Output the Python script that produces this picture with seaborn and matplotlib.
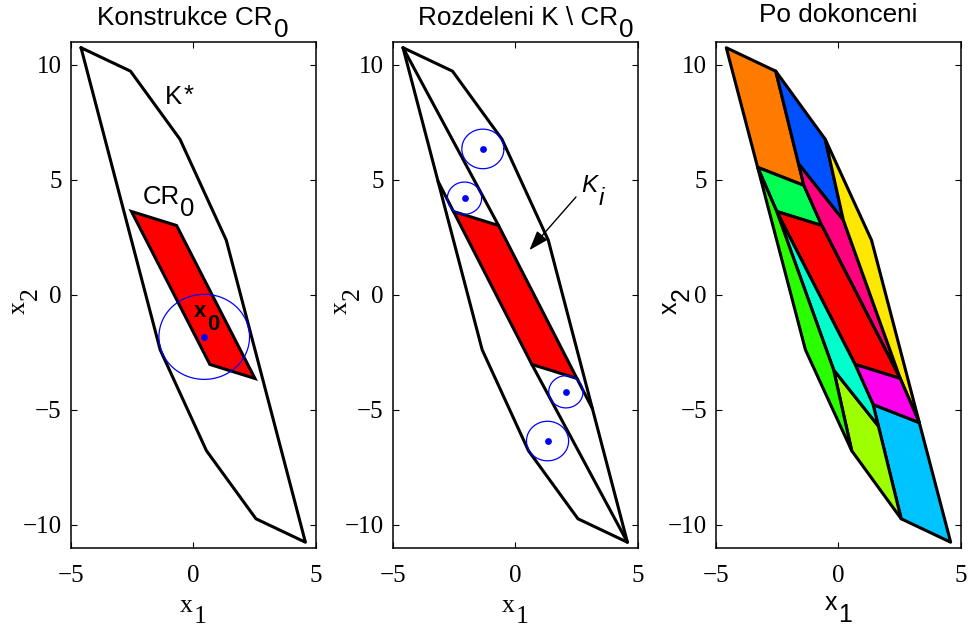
import numpy as np
import matplotlib
matplotlib.use("Agg")
import matplotlib.pyplot as plt
from matplotlib.transforms import ScaledTranslation
import seaborn as sns

# ---------------------------------------------------------------- data
# vertices of the feasible set K* (point-symmetric about the origin)
kstar_x = [-4.58, -2.56, -0.54, 1.35, 4.58, 2.56, 0.54, -1.35]
kstar_y = [10.75, 9.73, 6.77, 2.38, -10.75, -9.73, -6.77, -2.38]

# critical region CR0 of the starting point x0
cr0_x = [-2.52, -0.68, 2.52, 0.68]
cr0_y = [3.63, 3.02, -3.63, -3.02]

# Chebyshev ball around x0
x0_cx, x0_cy, x0_r = 0.45, -1.82, 1.85

# Chebyshev balls of the four pieces of K \ CR0
ball_x = [-1.32, -2.07, 2.07, 1.32]
ball_y = [6.35, 4.21, -4.21, -6.35]
ball_r = [0.86, 0.70, 0.70, 0.86]

# final partition of K*
orange_x = [-4.58, -2.56, -1.41, -3.30]
orange_y = [10.75, 9.73, 4.76, 5.55]
blue_x = [-2.56, -0.54, 0.20, -1.63]
blue_y = [9.73, 6.77, 3.25, 5.70]
green_x = [-3.30, -1.41, -0.68, -2.52]
green_y = [5.55, 4.76, 3.02, 3.63]
pink_x = [-1.63, 0.20, 2.52, -0.68, -1.41]
pink_y = [5.70, 3.25, -3.63, 3.02, 4.76]
yellow_x = [-0.54, 1.35, 3.30, 2.52, 0.20]
yellow_y = [6.77, 2.38, -5.55, -3.63, 3.25]
skyblue_x = [4.58, 2.56, 1.41, 3.30]
skyblue_y = [-10.75, -9.73, -4.76, -5.55]
lime_x = [2.56, 0.54, -0.20, 1.63]
lime_y = [-9.73, -6.77, -3.25, -5.70]
magenta_x = [3.30, 1.41, 0.68, 2.52]
magenta_y = [-5.55, -4.76, -3.02, -3.63]
teal_x = [1.63, -0.20, -2.52, 0.68, 1.41]
teal_y = [-5.70, -3.25, 3.63, -3.02, -4.76]
grass_x = [0.54, -1.35, -3.30, -2.52, -0.20]
grass_y = [-6.77, -2.38, 5.55, 3.63, -3.25]

partition = [
    (orange_x, orange_y, "#ff7b00"),
    (blue_x, blue_y, "#0050ff"),
    (green_x, green_y, "#00ff55"),
    (pink_x, pink_y, "#ff007f"),
    (yellow_x, yellow_y, "#ffe800"),
    (cr0_x, cr0_y, "#ff0000"),
    (skyblue_x, skyblue_y, "#00c4ff"),
    (lime_x, lime_y, "#9dff00"),
    (magenta_x, magenta_y, "#ff00ec"),
    (teal_x, teal_y, "#00ffcc"),
    (grass_x, grass_y, "#2aff00"),
]

# ---------------------------------------------------------------- style
sns.set_theme(style="white")
SANS = "Liberation Sans"
SERIF = "Liberation Serif"
plt.rcParams.update({
    "font.family": [SERIF, "DejaVu Sans"],
    "text.color": "black",
    "axes.edgecolor": "black",
    "axes.linewidth": 1.1,
    "xtick.color": "black",
    "ytick.color": "black",
    "axes.unicode_minus": True,
})

fig = plt.figure(figsize=(9.69, 6.33), dpi=100)
lefts = [0.0730, 0.4053, 0.7389]
axes = [fig.add_axes([l, 0.1343, 0.2528, 0.7994]) for l in lefts]


def rich_text(ax, x, y, pieces, transform, ha="center", rotation=0, **kw):
    """Lay out (text, baseline drop in pt, size) pieces one after another."""
    renderer = fig.canvas.get_renderer()
    arts = [ax.text(x, y, s, transform=transform, ha="left", va="baseline",
                    rotation=rotation, rotation_mode="anchor", fontsize=size,
                    clip_on=False, **kw)
            for s, drop, size in pieces]
    ext = [a.get_window_extent(renderer) for a in arts]
    adv = [(e.height if rotation else e.width) + 1.0 for e in ext]
    pos = {"left": 0.0, "center": -sum(adv) / 2, "right": -sum(adv)}[ha]
    for a, w, (s, drop, size) in zip(arts, adv, pieces):
        sh = drop * fig.dpi / 72
        dx, dy = (sh, pos) if rotation else (pos, -sh)
        a.set_transform(transform + ScaledTranslation(dx / fig.dpi, dy / fig.dpi,
                                                      fig.dpi_scale_trans))
        pos += w
    return arts


def closed(xs, ys):
    return list(xs) + [xs[0]], list(ys) + [ys[0]]


def outline(ax, xs, ys, **kw):
    cx, cy = closed(xs, ys)
    sns.lineplot(x=cx, y=cy, sort=False, estimator=None, ax=ax,
                 color="black", lw=2.2, **kw)


def segment(ax, p, q):
    sns.lineplot(x=[p[0], q[0]], y=[p[1], q[1]], sort=False, estimator=None,
                 ax=ax, color="black", lw=2.2)


def ball(ax, cx, cy, r):
    t = np.linspace(0, 2 * np.pi, 240)
    sns.lineplot(x=cx + r * np.cos(t), y=cy + r * np.sin(t), sort=False,
                 estimator=None, ax=ax, color="#0000ff", lw=0.9, zorder=4)


def meet(p, q, a, b):
    """Intersection of the line through p, q with the line through a, b."""
    p, q, a, b = map(np.asarray, (p, q, a, b))
    t, _ = np.linalg.solve(np.column_stack([q - p, a - b]), a - p)
    return p + t * (q - p)


V = list(zip(kstar_x, kstar_y))
C = list(zip(cr0_x, cr0_y))

# ---------------------------------------------------------------- panel 1
ax = axes[0]
outline(ax, kstar_x, kstar_y)
ax.fill(cr0_x, cr0_y, facecolor="#ff0000", edgecolor="black", lw=2.2, zorder=3)
ball(ax, x0_cx, x0_cy, x0_r)
sns.scatterplot(x=[x0_cx], y=[x0_cy], color="#0000ff", s=24, linewidth=0,
                ax=ax, zorder=5)
rich_text(ax, -1.14, 8.31, [("K", 0, 18.5), ("*", -1, 18.5)], ax.transData,
          ha="left", family=SANS)
rich_text(ax, -2.08, 3.97, [("CR", 0, 18.5), ("0", 9, 18.5)], ax.transData,
          ha="left", family=SANS)
rich_text(ax, 0.02, -0.94, [("x", 0, 16), ("0", 9.5, 16)], ax.transData,
          ha="left", family=SANS, fontweight="bold", zorder=6)

# ---------------------------------------------------------------- panel 2
ax = axes[1]
outline(ax, kstar_x, kstar_y)
q_right = meet(C[1], C[2], V[3], V[4])
q_left = meet(C[3], C[0], V[7], V[0])
segment(ax, V[0], C[1])
segment(ax, V[4], C[3])
segment(ax, C[2], q_right)
segment(ax, C[0], q_left)
ax.fill(cr0_x, cr0_y, facecolor="#ff0000", edgecolor="black", lw=2.2, zorder=3)
for bx, by, br in zip(ball_x, ball_y, ball_r):
    ball(ax, bx, by, br)
sns.scatterplot(x=ball_x, y=ball_y, color="#0000ff", s=24, linewidth=0,
                ax=ax, zorder=5)
ax.annotate("", xy=(0.58, 1.95), xytext=(2.48, 4.26),
            arrowprops=dict(arrowstyle="-|>,head_length=1.0,head_width=0.35",
                            mutation_scale=12, lw=1.0, color="black",
                            shrinkA=0, shrinkB=0))
rich_text(ax, 2.69, 4.47, [("K", 0, 17.5), ("i", 9.5, 17.5)], ax.transData,
          ha="left", family=SANS, style="italic")

# ---------------------------------------------------------------- panel 3
ax = axes[2]
for xs, ys, col in partition:
    ax.fill(xs, ys, facecolor=col, edgecolor="black", lw=2.2,
            joinstyle="round", zorder=2)

# ---------------------------------------------------------------- axes
TS = 18.8
titles = [([("Konstrukce CR", 0, TS), ("0", 8.4, TS)], 0.5, 1.0336),
          ([("Rozdeleni K \\ CR", 0, TS), ("0", 8.4, TS)], 0.545, 1.0336),
          ([("Po dokonceni", 0, TS)], 0.5, 1.040)]

for i, ax in enumerate(axes):
    ax.set_xlim(-5, 5)
    ax.set_ylim(-11, 11)
    ax.set_xticks([-5, 0, 5])
    ax.set_yticks([-10, -5, 0, 5, 10])
    ax.set_xlabel("")
    ax.set_ylabel("")
    ax.tick_params(direction="in", top=True, right=True, bottom=True, left=True,
                   length=4.3, width=0.8, labelsize=18)
    ax.tick_params(axis="x", pad=12)
    ax.tick_params(axis="y", pad=6.5)
    for lbl in ax.get_xticklabels() + ax.get_yticklabels():
        lbl.set_fontfamily(SERIF)
    for sp in ax.spines.values():
        sp.set_visible(True)
        sp.set_color("black")
        sp.set_linewidth(1.1)
    ax.set_facecolor("white")

    pieces, tx, ty = titles[i]
    rich_text(ax, tx, ty, pieces, ax.transAxes, ha="center", family=SANS)

    fam = SANS if i == 2 else SERIF
    size = 18 if i == 2 else 18.5
    xl_y = -0.1225 if i == 2 else -0.126
    yl_x = -0.160 if i == 2 else -0.187
    rich_text(ax, 0.5, xl_y, [("x", 0, size), ("1", 8.4, size)], ax.transAxes,
              ha="center", family=fam)
    rich_text(ax, yl_x, 0.49, [("x", 0, size), ("2", 8.4, size)], ax.transAxes,
              ha="center", rotation=90, family=fam)

fig.savefig("out.png", dpi=100, facecolor="white")
